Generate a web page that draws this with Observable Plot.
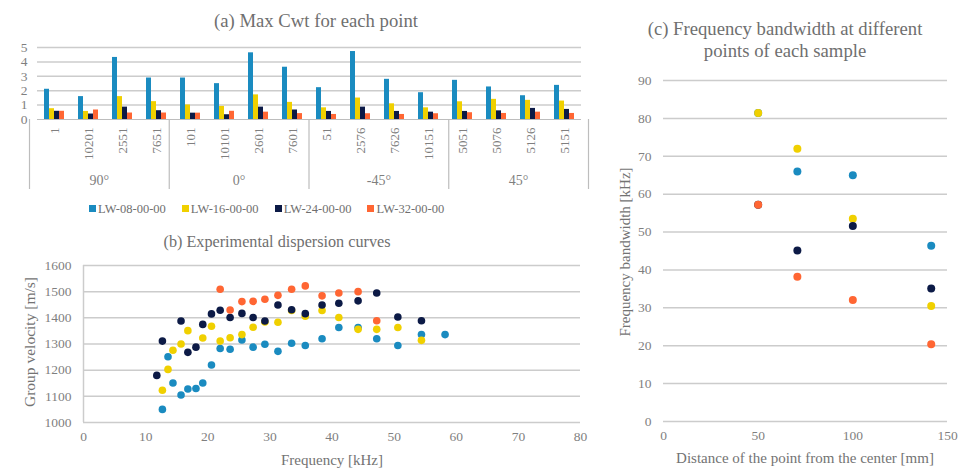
<!DOCTYPE html>
<html>
<head>
<meta charset="utf-8">
<script src="https://cdn.jsdelivr.net/npm/d3@7"></script>
<script src="https://cdn.jsdelivr.net/npm/@observablehq/plot@0.6"></script>
<style>
  html, body { margin: 0; padding: 0; background: #fff; }
  #root { position: relative; width: 958px; height: 469px; overflow: hidden; font-family: "Liberation Serif", "Times New Roman", serif; }
  .abs { position: absolute; line-height: 0; }
  .abs svg { display: block; overflow: visible; }
  .lbl { position: absolute; white-space: nowrap; transform: translate(-50%, -50%); line-height: 1; }
  .title { color: #6f6f6f; }
  .axlbl { color: #737373; font-size: 15px; }
  .rot { transform: translate(-50%, -50%) rotate(-90deg); }
  .legend { position: absolute; left: 89px; top: 201px; display: flex; gap: 16px; font-size: 12.5px; color: #6f6f6f; line-height: 16px; }
  .legend span.sw { display: inline-block; width: 7px; height: 7px; margin-right: 2px; vertical-align: 1px; }
</style>
</head>
<body>
<div id="root"></div>
<script>
// ---------- DATA ----------
const seriesNames = ["LW-08-00-00", "LW-16-00-00", "LW-24-00-00", "LW-32-00-00"];
const seriesColors = ["#1a8bc0", "#f0d000", "#0c1a46", "#ff6633"];

// (a) Max Cwt for each point
const pointLabels = ["1", "10201", "2551", "7651", "101", "10101", "2601", "7601", "51", "2576", "7626", "10151", "5051", "5076", "5126", "5151"];
const groupNames = ["90°", "0°", "-45°", "45°"];
const pointsPerGroup = 4;
const cwt08 = [2.10, 1.59, 4.31, 2.88, 2.88, 2.49, 4.63, 3.63, 2.21, 4.72, 2.79, 1.86, 2.72, 2.26, 1.65, 2.37];
const cwt16 = [0.75, 0.56, 1.59, 1.24, 1.01, 0.91, 1.71, 1.19, 0.81, 1.49, 1.09, 0.81, 1.23, 1.40, 1.33, 1.28];
const cwt24 = [0.57, 0.38, 0.86, 0.61, 0.44, 0.33, 0.86, 0.66, 0.56, 0.86, 0.56, 0.51, 0.56, 0.60, 0.77, 0.70];
const cwt32 = [0.57, 0.66, 0.45, 0.45, 0.44, 0.57, 0.51, 0.41, 0.35, 0.40, 0.35, 0.40, 0.47, 0.42, 0.51, 0.42];
const yTicksA = [0, 1, 2, 3, 4, 5];

// (b) Experimental dispersion curves
const freqB = [11.8, 12.7, 13.6, 14.4, 15.7, 16.8, 18.1, 19.2, 20.6, 22.0, 23.6, 25.5, 27.3, 29.2, 31.3, 33.5, 35.7, 38.4, 41.1, 44.2, 47.2, 50.6, 54.4, 58.2];
const vel08 = [null, 1050, 1251, 1151, 1105, 1128, 1130, 1151, 1220, 1283, 1280, 1315, 1288, 1299, 1272, 1303, 1294, 1320, 1363, 1363, 1320, 1294, 1336, 1336];
const vel16 = [null, 1123, 1203, 1276, 1300, 1351, null, 1323, 1368, 1311, 1324, 1336, 1364, 1384, 1383, 1428, 1406, 1428, 1401, 1356, 1356, 1363, 1314, null];
const vel24 = [1180, 1311, null, null, 1388, 1268, 1288, 1375, 1415, 1429, 1401, 1417, 1401, 1388, 1449, 1431, 1416, 1449, 1456, 1465, 1495, 1403, 1389, null];
const vel32 = [null, null, null, null, null, null, null, null, null, 1509, 1430, 1462, 1463, 1471, 1486, 1509, 1522, 1484, 1495, 1500, 1389, null, null, null];
const xTicksB = [0, 10, 20, 30, 40, 50, 60, 70, 80];
const yTicksB = [1000, 1100, 1200, 1300, 1400, 1500, 1600];

// (c) Frequency bandwidth at different points of each sample
const distC = [50, 70.7, 100, 141.4];
const bw08 = [81.4, 66.0, 65.0, 46.4];
const bw16 = [81.4, 72.0, 53.5, 30.5];
const bw24 = [57.2, 45.1, 51.6, 35.1];
const bw32 = [57.2, 38.2, 32.1, 20.4];
const xTicksC = [0, 50, 100, 150];
const yTicksC = [0, 10, 20, 30, 40, 50, 60, 70, 80, 90];

// ---------- build tables ----------
const cwtAll = [cwt08, cwt16, cwt24, cwt32];
const barData = [];
pointLabels.forEach((p, i) => seriesNames.forEach((s, k) => barData.push({point: p, series: s, value: cwtAll[k][i]})));

const velAll = [vel08, vel16, vel24, vel32];
const dotsB = [];
seriesNames.forEach((s, k) => freqB.forEach((f, i) => { if (velAll[k][i] != null) dotsB.push({f, v: velAll[k][i], series: s}); }));

const bwAll = [bw08, bw16, bw24, bw32];
const dotsC = [];
seriesNames.forEach((s, k) => distC.forEach((d, i) => dotsC.push({d, bw: bwAll[k][i], series: s})));

const groupBounds = groupNames.map((g, i) => i * pointsPerGroup).concat([groupNames.length * pointsPerGroup]);
const groupCenters = groupNames.map((g, i) => ({name: g, c: i * pointsPerGroup + pointsPerGroup / 2}));

const gridColor = "#cccccc";
const axisColor = "#bdbdbd";
const tickColor = "#7f7f7f";
const fmt = d3.format("d");
const colorScale = {domain: seriesNames, range: seriesColors};
const baseStyle = {fontFamily: "'Liberation Serif', 'Times New Roman', serif", fontSize: "13px", color: tickColor, background: "transparent", overflow: "visible"};

const root = document.getElementById("root");
function place(el, left, top) {
  const d = document.createElement("div");
  d.className = "abs"; d.style.left = left + "px"; d.style.top = top + "px";
  d.appendChild(el); root.appendChild(d); return d;
}
function label(text, x, y, cls, size) {
  const d = document.createElement("div");
  d.className = "lbl " + cls; d.textContent = text;
  d.style.left = x + "px"; d.style.top = y + "px";
  if (size) d.style.fontSize = size + "px";
  root.appendChild(d);
}

// ---------- (a) bars ----------
const plotA = Plot.plot({
  width: 600, height: 149,
  marginLeft: 29, marginRight: 12, marginTop: 17, marginBottom: 60,
  style: baseStyle,
  fx: {domain: pointLabels, padding: 0, label: null},
  x: {domain: seriesNames, axis: null, paddingInner: 0, paddingOuter: 0.9},
  y: {domain: [0, 5], label: null},
  color: colorScale,
  marks: [
    Plot.gridY(yTicksA.slice(1), {stroke: gridColor, strokeOpacity: 1, strokeWidth: 1.5}),
    Plot.barY(barData, {fx: "point", x: "series", y: "value", fill: "series"}),
    Plot.ruleY([0], {stroke: axisColor, strokeWidth: 1.2}),
    Plot.axisY(yTicksA, {tickSize: 0, tickPadding: 10, label: null, fontSize: 13.5, tickFormat: fmt}),
    Plot.axisFx({anchor: "bottom", tickRotate: -90, tickSize: 0, tickPadding: 8, label: null, fontSize: 13})
  ]
});
place(plotA, 0, 30);

// group axis row under (a)
const plotAGroups = Plot.plot({
  width: 600, height: 70,
  marginLeft: 29, marginRight: 12, marginTop: 0, marginBottom: 0,
  style: baseStyle,
  x: {domain: [0, groupNames.length * pointsPerGroup], axis: null},
  y: {domain: [0, 1], axis: null},
  marks: [
    Plot.ruleX(groupBounds, {stroke: axisColor, strokeWidth: 1.2}),
    Plot.text(groupCenters, {x: "c", text: "name", frameAnchor: "top", lineAnchor: "middle", dy: 61, fontSize: 14, fill: tickColor})
  ]
});
place(plotAGroups, 0, 118.5);

// legend
const leg = document.createElement("div");
leg.className = "legend";
seriesNames.forEach((s, k) => {
  const it = document.createElement("div");
  const sw = document.createElement("span");
  sw.className = "sw"; sw.style.background = seriesColors[k];
  it.appendChild(sw);
  it.appendChild(document.createTextNode(s));
  leg.appendChild(it);
});
root.appendChild(leg);

// ---------- (b) dispersion ----------
const plotB = Plot.plot({
  width: 600, height: 219,
  marginLeft: 83, marginRight: 20, marginTop: 15, marginBottom: 47,
  style: baseStyle,
  x: {domain: [0, 80], label: null},
  y: {domain: [1000, 1600], label: null},
  color: colorScale,
  marks: [
    Plot.gridY(yTicksB, {stroke: gridColor, strokeOpacity: 1, strokeWidth: 1.5}),
    Plot.ruleX([0], {stroke: gridColor, strokeWidth: 1.5}),
    Plot.axisY(yTicksB, {tickSize: 0, tickPadding: 12, label: null, fontSize: 13.5, tickFormat: fmt}),
    Plot.axisX(xTicksB, {tickSize: 0, tickPadding: 9, label: null, fontSize: 13.5, tickFormat: fmt}),
    Plot.dot(dotsB, {x: "f", y: "v", fill: "series", r: 3.8})
  ]
});
place(plotB, 0, 250);

// ---------- (c) bandwidth ----------
const plotC = Plot.plot({
  width: 358, height: 469,
  marginLeft: 63, marginRight: 11, marginTop: 80, marginBottom: 48,
  style: baseStyle,
  x: {domain: [0, 150], label: null},
  y: {domain: [0, 90], label: null},
  color: colorScale,
  marks: [
    Plot.gridY(yTicksC, {stroke: gridColor, strokeOpacity: 1, strokeWidth: 1.5}),
    Plot.axisY(yTicksC, {tickSize: 0, tickPadding: 12, label: null, fontSize: 13.5, tickFormat: fmt}),
    Plot.axisX(xTicksC, {tickSize: 0, tickPadding: 9, label: null, fontSize: 13.5, tickFormat: fmt}),
    Plot.dot(dotsC, {x: "d", y: "bw", fill: "series", r: 4})
  ]
});
place(plotC, 600, 0);

// ---------- titles & axis labels ----------
label("(a) Max Cwt for each point", 316, 21, "title", 18.7);
label("(b) Experimental dispersion curves", 277, 242, "title", 16.2);
label("(c) Frequency bandwidth at different", 785, 29, "title", 18.7);
label("points of each sample", 785, 51, "title", 18.7);
label("Frequency [kHz]", 332, 460, "axlbl");
label("Group velocity [m/s]", 30, 342, "axlbl rot", 15.5);
label("Distance of the point from the center [mm]", 805, 458, "axlbl");
label("Frequency bandwidth [kHz]", 625, 252, "axlbl rot");
</script>
</body>
</html>
